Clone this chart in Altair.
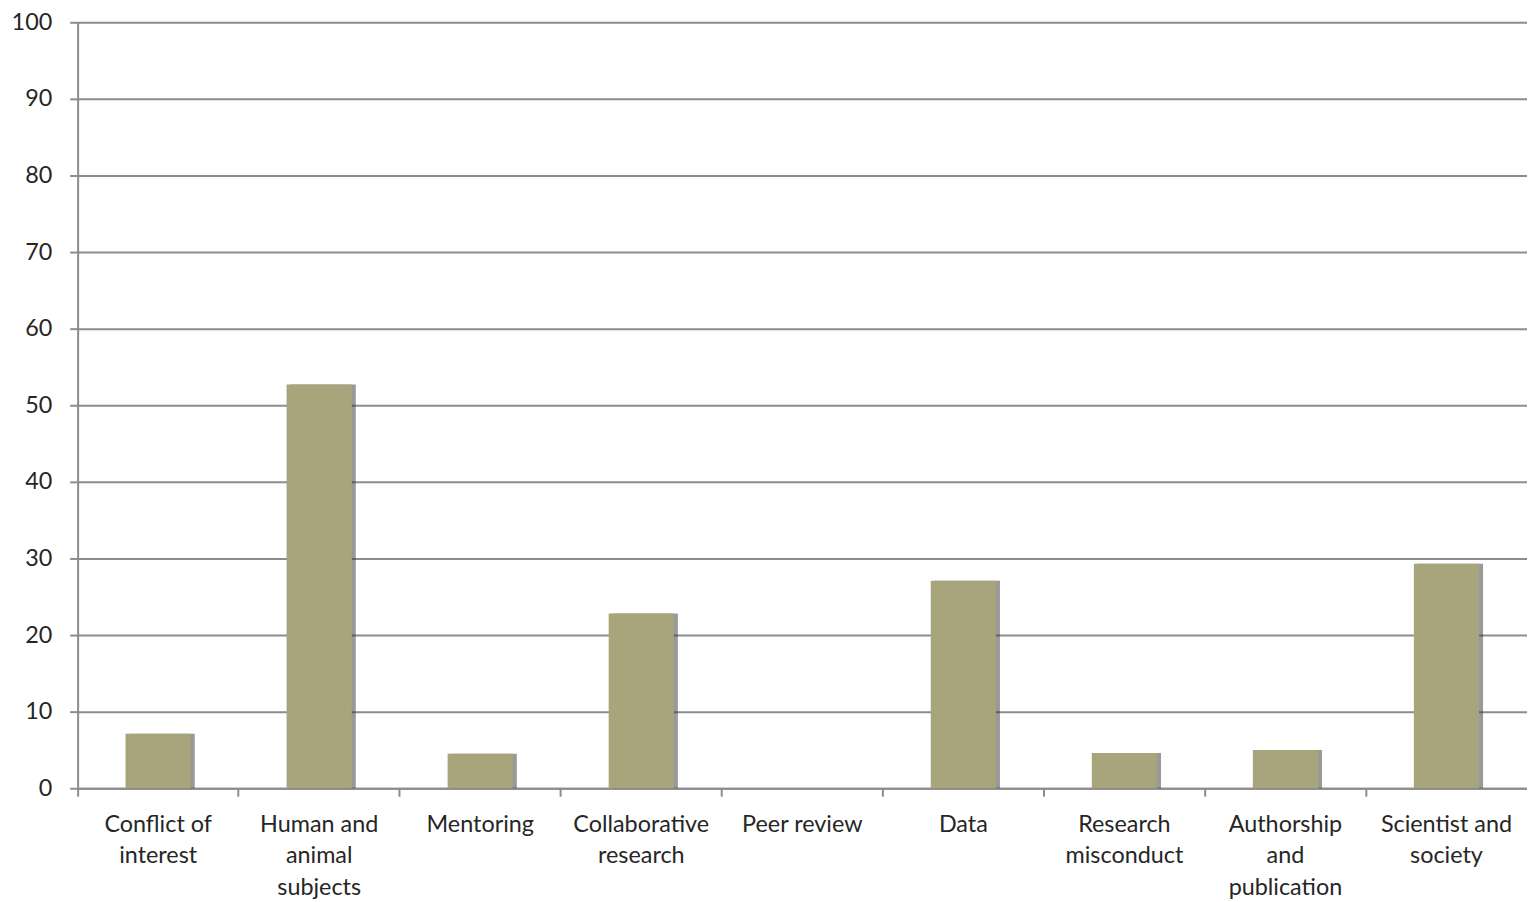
import altair as alt
import pandas as pd

categories = [
    "Conflict of|interest",
    "Human and|animal|subjects",
    "Mentoring",
    "Collaborative|research",
    "Peer review",
    "Data",
    "Research|misconduct",
    "Authorship|and|publication",
    "Scientist and|society",
]
values = [7.1, 52.7, 4.5, 22.8, 0, 27.1, 4.6, 5.0, 29.3]
y_ticks = [0, 10, 20, 30, 40, 50, 60, 70, 80, 90, 100]

df = pd.DataFrame({"category": categories, "value": values})

W = 1457
H = 770
FONT = "Lato"
GRAY = "#8c8c8c"
TXT = "#262626"

x_enc = alt.X(
    "category:N",
    sort=categories,
    scale=alt.Scale(paddingInner=0, paddingOuter=0),
    axis=alt.Axis(
        title=None,
        labelAngle=0,
        labelExpr="split(datum.label, '|')",
        bandPosition=0,
        labelFont=FONT,
        labelFontSize=23.5,
        labelColor=TXT,
        labelLineHeight=32,
        labelPadding=16,
        labelBaseline="top",
        labelAlign="center",
        tickColor=GRAY,
        tickWidth=2,
        tickSize=8,
        domainColor=GRAY,
        domainWidth=2,
        grid=False,
        labelOverlap=False,
    ),
)
y_enc = alt.Y(
    "value:Q",
    scale=alt.Scale(domain=[0, 100], nice=False),
    axis=alt.Axis(
        title=None,
        values=y_ticks,
        labelFont=FONT,
        labelFontSize=23.5,
        labelColor=TXT,
        labelPadding=18,
        tickColor=GRAY,
        tickWidth=2,
        tickSize=8,
        domainColor=GRAY,
        domainWidth=2,
        gridColor=GRAY,
        gridWidth=2,
        grid=True,
    ),
)

shadow = alt.Chart(df).mark_bar(
    color="#333333", opacity=0.5, xOffset=4, width={"band": 0.405}
).encode(x=x_enc, y=y_enc)

bars = alt.Chart(df).mark_bar(
    color="#a8a47c", width={"band": 0.405}
).encode(x=x_enc, y=y_enc)

chart = (
    alt.layer(shadow, bars)
    .properties(
        width=W,
        height=H,
        autosize=alt.AutoSizeParams(type="none"),
        padding={"left": 70, "top": 12, "right": 0, "bottom": 110},
    )
    .configure_view(stroke=None)
)

chart.save("out.html", embed_options={"renderer": "svg", "actions": False})
